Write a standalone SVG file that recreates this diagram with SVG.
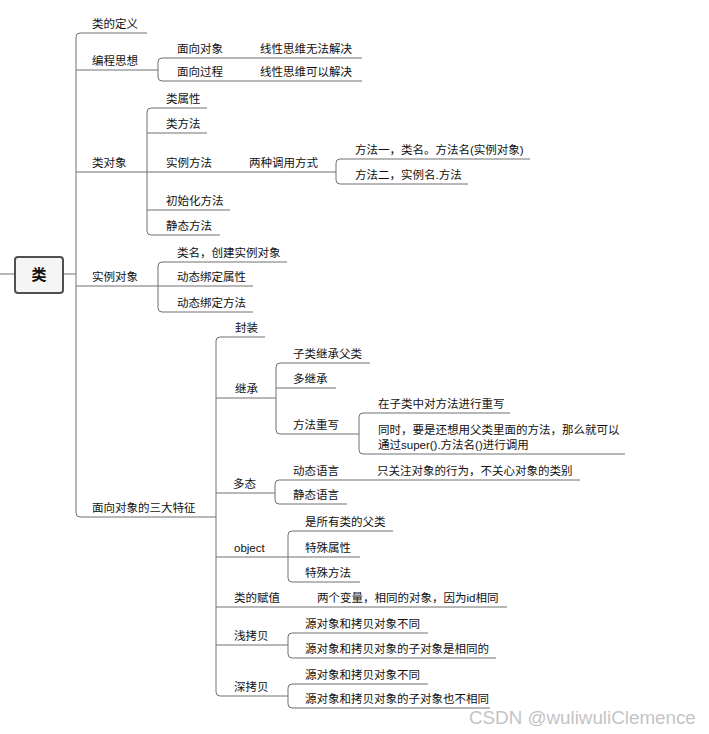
<svg xmlns="http://www.w3.org/2000/svg" width="709" height="734" viewBox="0 0 709 734">
<style>
text{font-family:"Liberation Sans","Noto Sans CJK SC",sans-serif;font-size:11.5px;fill:#111}
.c path{fill:none;stroke:#707070;stroke-width:1}
.root rect{fill:#f5f5f5;stroke:#505050;stroke-width:2}
.root text{font-size:15px;font-weight:bold;text-anchor:middle}
.wm{font-family:"Liberation Sans",sans-serif;font-size:18.8px;fill:#c4c4c4}
</style>
<rect width="709" height="734" fill="#fff"/>
<g class="c" id="connectors">
<path d="M0 274H15M63 274H76"/>
<path d="M76 274V37Q76 33 80 33H147"/>
<path d="M76 70H158"/>
<path d="M76 172H336"/>
<path d="M76 286H158"/>
<path d="M76 274V513Q76 517 80 517H216"/>
<path d="M158 70V62Q158 58 162 58H362"/>
<path d="M158 70V77Q158 81 162 81H362"/>
<path d="M147 172V112Q147 108 151 108H207"/>
<path d="M147 133H207"/>
<path d="M147 210H230"/>
<path d="M147 172V231Q147 235 151 235H220"/>
<path d="M336 172V163Q336 159 340 159H530"/>
<path d="M336 172V180Q336 184 340 184H468"/>
<path d="M158 286V266Q158 262 162 262H287"/>
<path d="M158 286H253"/>
<path d="M158 286V308Q158 312 162 312H253"/>
<path d="M216 517V341Q216 337 220 337H265"/>
<path d="M216 398H276"/>
<path d="M216 493H275"/>
<path d="M216 557H288"/>
<path d="M216 607H507"/>
<path d="M216 645H288"/>
<path d="M216 517V692Q216 696 220 696H288"/>
<path d="M276 398V367Q276 363 280 363H370"/>
<path d="M276 388H336"/>
<path d="M276 398V430Q276 434 280 434H359"/>
<path d="M359 434V417Q359 413 363 413H510"/>
<path d="M359 434V450Q359 454 363 454H625"/>
<path d="M275 493V484Q275 480 279 480H580"/>
<path d="M275 493V500Q275 504 279 504H347"/>
<path d="M288 557V535Q288 531 292 531H393"/>
<path d="M288 557H360"/>
<path d="M288 557V578Q288 582 292 582H360"/>
<path d="M288 645V637Q288 633 292 633H428"/>
<path d="M288 645V654Q288 658 292 658H496"/>
<path d="M288 696V688Q288 684 292 684H428"/>
<path d="M288 696V704Q288 708 292 708H490"/>
</g>
<g id="root" class="root"><rect x="15" y="257" width="48" height="36" rx="3"/><text x="39" y="280">类</text></g>
<g id="n-def"><text x="92" y="28">类的定义</text></g>
<g id="n-idea"><text x="92" y="65">编程思想</text></g>
<g id="n-oop"><text x="177" y="53">面向对象</text></g>
<g id="n-oop-a"><text x="260" y="53">线性思维无法解决</text></g>
<g id="n-pop"><text x="177" y="76">面向过程</text></g>
<g id="n-pop-a"><text x="260" y="76">线性思维可以解决</text></g>
<g id="n-clsobj"><text x="92" y="167">类对象</text></g>
<g id="n-clsattr"><text x="166" y="103">类属性</text></g>
<g id="n-clsmeth"><text x="166" y="128">类方法</text></g>
<g id="n-instmeth"><text x="166" y="167">实例方法</text></g>
<g id="n-twoways"><text x="249" y="167">两种调用方式</text></g>
<g id="n-way1"><text x="355" y="154">方法一，类名。方法名(实例对象)</text></g>
<g id="n-way2"><text x="355" y="179">方法二，实例名.方法</text></g>
<g id="n-init"><text x="166" y="205">初始化方法</text></g>
<g id="n-static"><text x="166" y="230">静态方法</text></g>
<g id="n-instobj"><text x="92" y="281">实例对象</text></g>
<g id="n-create"><text x="177" y="257">类名，创建实例对象</text></g>
<g id="n-dynattr"><text x="177" y="281">动态绑定属性</text></g>
<g id="n-dynmeth"><text x="177" y="307">动态绑定方法</text></g>
<g id="n-three"><text x="92" y="512">面向对象的三大特征</text></g>
<g id="n-encap"><text x="235" y="332">封装</text></g>
<g id="n-inherit"><text x="235" y="393">继承</text></g>
<g id="n-subcls"><text x="293" y="358">子类继承父类</text></g>
<g id="n-multi"><text x="293" y="383">多继承</text></g>
<g id="n-override"><text x="293" y="429">方法重写</text></g>
<g id="n-ov1"><text x="378" y="408">在子类中对方法进行重写</text></g>
<g id="n-ov2"><text x="378" y="434">同时，要是还想用父类里面的方法，那么就可以</text><text x="378" y="449">通过super().方法名()进行调用</text></g>
<g id="n-poly"><text x="233" y="488">多态</text></g>
<g id="n-dynlang"><text x="293" y="475">动态语言</text></g>
<g id="n-dynlang-a"><text x="377" y="475">只关注对象的行为，不关心对象的类别</text></g>
<g id="n-statlang"><text x="293" y="499">静态语言</text></g>
<g id="n-object"><text x="234" y="552">object</text></g>
<g id="n-obj1"><text x="305" y="526">是所有类的父类</text></g>
<g id="n-obj2"><text x="305" y="552">特殊属性</text></g>
<g id="n-obj3"><text x="305" y="577">特殊方法</text></g>
<g id="n-assign"><text x="234" y="602">类的赋值</text></g>
<g id="n-assign-a"><text x="317" y="602">两个变量，相同的对象，因为id相同</text></g>
<g id="n-shallow"><text x="234" y="640">浅拷贝</text></g>
<g id="n-sh1"><text x="305" y="628">源对象和拷贝对象不同</text></g>
<g id="n-sh2"><text x="305" y="653">源对象和拷贝对象的子对象是相同的</text></g>
<g id="n-deep"><text x="234" y="691">深拷贝</text></g>
<g id="n-dp1"><text x="305" y="679">源对象和拷贝对象不同</text></g>
<g id="n-dp2"><text x="305" y="703">源对象和拷贝对象的子对象也不相同</text></g>
<text class="wm" x="469" y="724">CSDN @wuliwuliClemence</text>
</svg>
